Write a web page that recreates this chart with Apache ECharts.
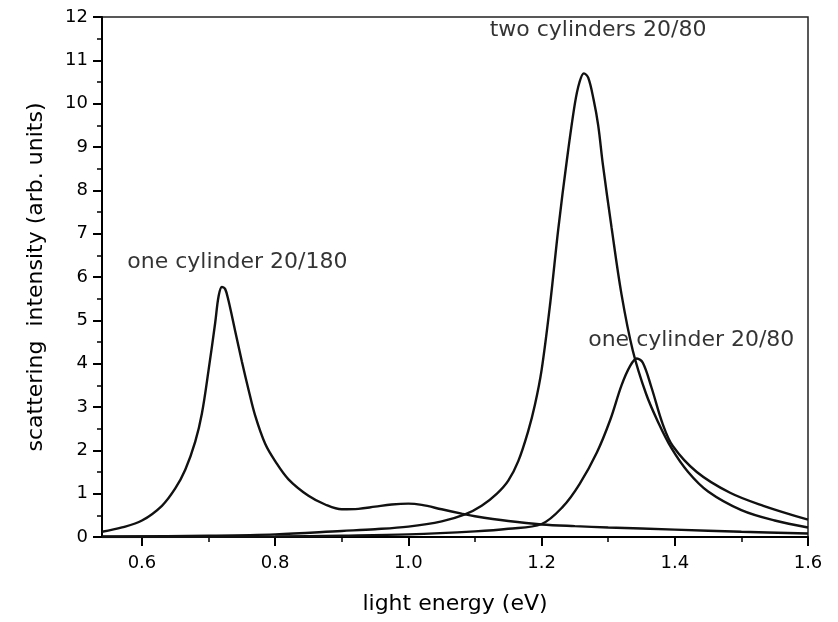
<!DOCTYPE html>
<html>
<head>
<meta charset="utf-8">
<script src="https://cdn.jsdelivr.net/npm/echarts@6/dist/echarts.min.js"></script>
<style>
  html, body { margin: 0; padding: 0; background: #fff; }
  #main { width: 838px; height: 622px; }
</style>
</head>
<body>
<div id="main"></div>
<script>
// one cylinder 20/180
var xOne180 = [0.54, 0.57, 0.60, 0.63, 0.65, 0.665, 0.68, 0.69, 0.70, 0.71, 0.715, 0.72, 0.725, 0.73, 0.74, 0.75, 0.76, 0.77, 0.785, 0.80, 0.82, 0.85, 0.875, 0.90, 0.925, 0.95, 0.975, 1.00, 1.02, 1.05, 1.08, 1.10, 1.15, 1.20, 1.25, 1.30, 1.40, 1.50, 1.60];
var yOne180 = [0.12, 0.22, 0.38, 0.72, 1.12, 1.55, 2.2, 2.85, 3.85, 4.95, 5.55, 5.77, 5.72, 5.45, 4.75, 4.05, 3.4, 2.8, 2.15, 1.75, 1.33, 0.95, 0.75, 0.64, 0.65, 0.7, 0.75, 0.77, 0.74, 0.64, 0.54, 0.48, 0.37, 0.29, 0.25, 0.22, 0.17, 0.12, 0.08];

// two cylinders 20/80
var xTwo80 = [0.54, 0.70, 0.80, 0.90, 0.95, 1.00, 1.05, 1.085, 1.11, 1.133, 1.15, 1.165, 1.18, 1.19, 1.20, 1.213, 1.225, 1.238, 1.25, 1.257, 1.2635, 1.27, 1.278, 1.285, 1.292, 1.305, 1.32, 1.337, 1.357, 1.375, 1.395, 1.42, 1.45, 1.50, 1.55, 1.60];
var yTwo80 = [0.01, 0.03, 0.06, 0.14, 0.18, 0.24, 0.36, 0.52, 0.72, 1.0, 1.3, 1.75, 2.45, 3.05, 3.85, 5.4, 7.1, 8.7, 10.0, 10.5, 10.7, 10.6, 10.1, 9.5, 8.6, 7.15, 5.6, 4.3, 3.3, 2.65, 2.05, 1.5, 1.05, 0.62, 0.38, 0.22];

// one cylinder 20/80
var xOne80 = [0.54, 0.80, 0.90, 1.00, 1.10, 1.15, 1.20, 1.232, 1.257, 1.283, 1.303, 1.32, 1.333, 1.343, 1.352, 1.365, 1.382, 1.397, 1.433, 1.483, 1.533, 1.60];
var yOne80 = [0.0, 0.01, 0.03, 0.06, 0.13, 0.19, 0.3, 0.7, 1.22, 1.95, 2.7, 3.5, 3.95, 4.12, 4.02, 3.45, 2.6, 2.1, 1.5, 1.02, 0.72, 0.4];

// annotations
var noteText = ['one cylinder 20/180', 'two cylinders 20/80', 'one cylinder 20/80'];
var noteX = [0.578, 1.122, 1.27];
var noteY = [6.34, 11.7, 4.53];

var xMajor = [0.6, 0.8, 1.0, 1.2, 1.4, 1.6];
var xMinor = [0.7, 0.9, 1.1, 1.3, 1.5];

function pairs(xs, ys) {
  return xs.map(function (x, i) { return [x, ys[i]]; });
}

var font = 'DejaVu Sans';
var ink = '#000';

var chart = echarts.init(document.getElementById('main'));

function curve(name, xs, ys) {
  return {
    name: name,
    type: 'line',
    data: pairs(xs, ys),
    showSymbol: false,
    smooth: 0.35,
    lineStyle: { color: '#111', width: 2.4 },
    silent: true
  };
}

var option = {
  animation: false,
  grid: {
    left: 102, right: 30, top: 17, bottom: 85,
    show: true, borderColor: '#222', borderWidth: 1.5, backgroundColor: 'transparent'
  },
  xAxis: [{
    type: 'value', min: 0.54, max: 1.6,
    position: 'bottom',
    axisLine: { show: true, lineStyle: { color: ink, width: 2 } },
    axisTick: { show: true, customValues: xMajor, length: 9, lineStyle: { color: ink, width: 2 } },
    axisLabel: {
      customValues: xMajor, margin: 17, fontSize: 18, color: ink, fontFamily: font,
      formatter: function (v) { return v.toFixed(1); }
    },
    splitLine: { show: false },
    name: 'light energy (eV)', nameLocation: 'middle', nameGap: 56,
    nameTextStyle: { fontSize: 22, color: ink, fontFamily: font }
  }, {
    type: 'value', min: 0.54, max: 1.6,
    position: 'bottom',
    axisLine: { show: false },
    axisTick: { show: true, customValues: xMinor, length: 5, lineStyle: { color: ink, width: 1.5 } },
    axisLabel: { show: false },
    splitLine: { show: false }
  }],
  yAxis: {
    type: 'value', min: 0, max: 12, interval: 1,
    axisLine: { show: true, lineStyle: { color: ink, width: 2 } },
    axisTick: { show: true, length: 9, lineStyle: { color: ink, width: 2 } },
    minorTick: { show: true, splitNumber: 2, length: 5, lineStyle: { color: ink, width: 1.5 } },
    axisLabel: { margin: 14, fontSize: 18, color: ink, fontFamily: font },
    splitLine: { show: false },
    minorSplitLine: { show: false },
    name: 'scattering  intensity (arb. units)', nameLocation: 'middle', nameGap: 55,
    nameTextStyle: { fontSize: 22, color: ink, fontFamily: font }
  },
  series: [
    curve('one cylinder 20/180', xOne180, yOne180),
    curve('two cylinders 20/80', xTwo80, yTwo80),
    curve('one cylinder 20/80', xOne80, yOne80),
    {
      name: 'notes',
      type: 'scatter',
      symbolSize: 0,
      silent: true,
      data: noteText.map(function (t, i) { return { name: t, value: [noteX[i], noteY[i]] }; }),
      label: {
        show: true, position: 'right', distance: 0,
        formatter: function (p) { return p.name; },
        fontSize: 22, color: ink, fontFamily: font
      }
    }
  ]
};

chart.setOption(option);
</script>
</body>
</html>
